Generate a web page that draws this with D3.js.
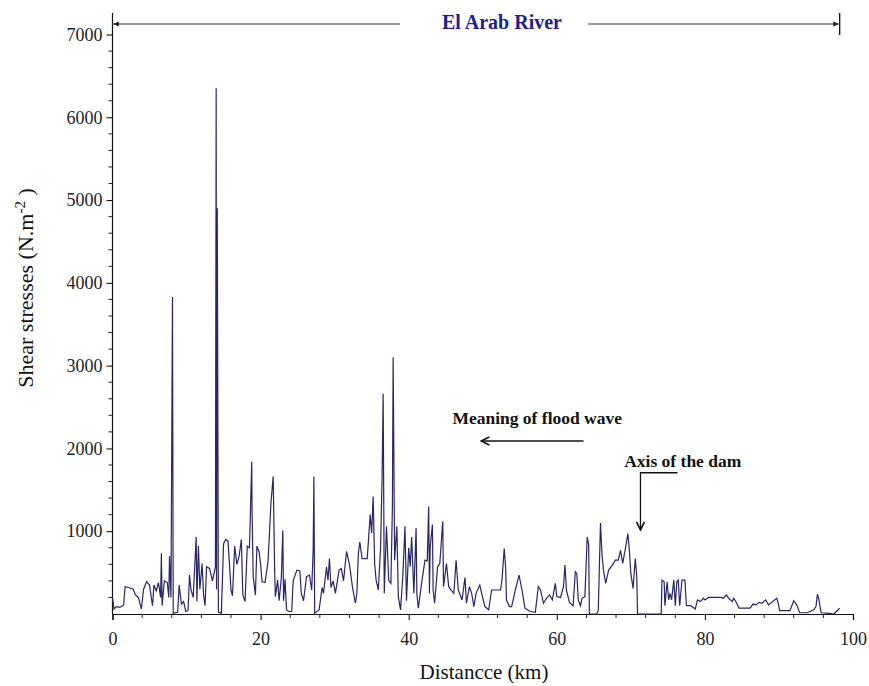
<!DOCTYPE html>
<html>
<head>
<meta charset="utf-8">
<script src="https://cdn.jsdelivr.net/npm/d3@7"></script>
<style>
  body { margin: 0; background: #fff; }
  svg { display: block; }
</style>
</head>
<body>
<div id="chart"></div>
<script>
// distance along the river (km) and shear stress (N/m2)
const distanceKm = [
  0, 0.2, 0.5, 1.0, 1.5, 1.7, 2.2, 2.8, 3.1, 3.5,
  3.9, 4.2, 4.6, 5.0, 5.4, 5.6, 5.9, 6.2, 6.5, 6.6,
  6.7, 7.0, 7.4, 7.6, 7.7, 7.9, 8.1, 8.2, 8.8, 9.0,
  9.3, 9.6, 9.9, 10.2, 10.4, 10.6, 10.9, 11.3, 11.4, 11.6,
  11.8, 12.1, 12.3, 12.5, 12.7, 13.1, 13.5, 13.9, 14.0, 14.05,
  14.15, 14.3, 14.7, 15.0, 15.3, 15.6, 15.8, 16.0, 16.2, 16.5,
  16.8, 17.1, 17.4, 17.6, 17.9, 18.2, 18.5, 18.8, 18.85, 19.0,
  19.3, 19.5, 19.8, 20.0, 20.2, 20.6, 21.0, 21.4, 21.7, 21.8,
  21.9, 22.0, 22.3, 22.5, 22.8, 23.0, 23.1, 23.3, 23.5, 23.8,
  24.2, 24.4, 24.9, 25.3, 25.5, 25.8, 26.2, 26.6, 26.9, 27.1,
  27.2, 27.3, 27.9, 28.3, 28.5, 28.9, 29.1, 29.3, 29.5, 29.8,
  30.1, 30.6, 30.9, 31.2, 31.6, 32.0, 32.4, 32.8, 33.0, 33.2,
  33.4, 33.7, 34.4, 34.8, 35.0, 35.2, 35.4, 35.6, 35.9, 36.2,
  36.4, 36.55, 36.7, 37.0, 37.3, 37.6, 37.8, 37.9, 38.1, 38.4,
  38.6, 38.9, 39.2, 39.5, 39.7, 40.0, 40.2, 40.4, 40.7, 41.0,
  41.1, 41.3, 41.8, 42.2, 42.5, 42.7, 42.8, 42.9, 43.2, 43.3,
  43.5, 43.9, 44.2, 44.6, 44.7, 45.1, 45.4, 45.7, 46.1, 46.4,
  46.7, 47.2, 47.6, 47.8, 48.2, 48.5, 48.8, 49.1, 49.6, 49.9,
  50.3, 50.8, 51.2, 52.4, 52.6, 52.9, 53.1, 53.2, 53.6, 53.9,
  54.4, 54.9, 55.3, 55.7, 56.4, 57.1, 57.5, 57.8, 58.2, 58.6,
  59.0, 59.4, 59.8, 60.0, 60.5, 60.9, 61.1, 61.3, 61.7, 62.2,
  62.5, 62.7, 62.9, 63.2, 63.4, 63.8, 64.1, 64.3, 64.4, 65.4,
  65.6, 65.9, 66.1, 66.3, 66.6, 67.0, 67.5, 67.9, 68.3, 68.6,
  68.9, 69.3, 69.6, 69.8, 70.0, 70.3, 70.6, 70.8, 70.9, 74.1,
  74.2, 74.5, 74.6, 74.9, 75.1, 75.3, 75.5, 75.8, 76.0, 76.2,
  76.4, 76.6, 76.9, 77.3, 77.5, 78.1, 78.7, 79.0, 79.4, 79.8,
  80.0, 80.5, 82.1, 82.5, 82.9, 83.2, 83.7, 83.9, 84.3, 84.6,
  86.1, 86.5, 86.9, 87.3, 87.7, 88.2, 88.6, 89.7, 89.9, 90.1,
  91.5, 91.7, 92.0, 92.4, 92.8, 93.8, 94.7, 95.0, 95.2, 95.4,
  95.7, 96.5, 97.4, 98.2
];
const shearStress = [
  200, 60, 90, 80, 110, 330, 320, 300, 230, 200,
  60, 300, 390, 350, 100, 350, 280, 380, 200, 735,
  100, 400, 380, 200, 700, 200, 3830, 10, 20, 350,
  120, 150, 30, 40, 470, 290, 200, 930, 150, 820,
  300, 610, 230, 100, 570, 550, 400, 570, 6350, 300,
  4900, 20, 10, 850, 900, 880, 600, 290, 220, 820,
  600, 700, 900, 230, 150, 820, 800, 1840, 1220, 450,
  230, 820, 750, 600, 390, 380, 630, 1340, 1660, 1100,
  500, 210, 410, 160, 440, 1010, 160, 420, 50, 30,
  30, 400, 530, 520, 250, 160, 450, 470, 290, 775,
  1660, 10, 50, 320, 250, 570, 410, 670, 320, 400,
  250, 530, 550, 400, 755, 600, 330, 130, 250, 730,
  870, 670, 670, 1200, 980, 1420, 610, 410, 290, 800,
  1620, 2660, 250, 1060, 410, 370, 1300, 3100, 650, 1060,
  210, 50, 450, 1060, 160, 800, 570, 930, 250, 1040,
  250, 70, 410, 650, 640, 1300, 250, 810, 1080, 290,
  130, 570, 610, 1120, 330, 610, 330, 290, 250, 650,
  290, 170, 440, 130, 330, 250, 90, 250, 350, 230,
  90, 50, 290, 290, 410, 790, 550, 170, 90, 90,
  290, 470, 290, 70, 30, 20, 330, 290, 130, 190,
  230, 170, 370, 210, 200, 330, 590, 290, 140, 100,
  510, 490, 170, 100, 190, 210, 930, 840, 0, 0,
  40, 1100, 730, 530, 370, 530, 590, 650, 650, 770,
  610, 810, 970, 770, 490, 310, 670, 450, 0, 0,
  410, 390, 100, 390, 170, 250, 170, 410, 100, 390,
  410, 100, 410, 410, 100, 100, 60, 170, 150, 190,
  170, 200, 200, 190, 230, 190, 150, 190, 130, 70,
  70, 120, 110, 140, 130, 170, 110, 190, 130, 40,
  40, 90, 160, 110, 15, 15, 50, 90, 240, 170,
  15, 10, 0, 70
];

const xTickLabels = [0, 20, 40, 60, 80, 100];
const xMinorTicks = d3.range(0, 101, 4).filter(v => v % 20 !== 0);
const yTickLabels = [1000, 2000, 3000, 4000, 5000, 6000, 7000];
const yMinorTicks = d3.range(200, 7000, 200).filter(v => v % 1000 !== 0);

const riverTitle = "El Arab River";
const riverEndKm = 98.2;
const floodNote = { text: "Meaning of flood wave", km: 45.9, val: 2290, fromKm: 63.6, toKm: 49.8, arrowVal: 2090 };
const damNote = { text: "Axis of the dam", km: 69.1, val: 1780, elbowKm: 76.3, km0: 71.3, topVal: 1706, tipVal: 1016 };

const width = 869, height = 686;
const margin = { top: 13, right: 16, bottom: 72, left: 112.5 };
const serif = "'Liberation Serif', 'Times New Roman', Times, serif";

const svg = d3.select("#chart").append("svg")
  .attr("width", width)
  .attr("height", height)
  .style("font-family", serif);

const x = d3.scaleLinear().domain([0, 100]).range([margin.left, width - margin.right]);
const y = d3.scaleLinear().domain([0, 7260]).range([height - margin.bottom, margin.top]);

const defs = svg.append("defs");
defs.append("marker")
  .attr("id", "chev")
  .attr("viewBox", "0 0 10 10")
  .attr("refX", 9).attr("refY", 5)
  .attr("markerWidth", 10).attr("markerHeight", 10)
  .attr("markerUnits", "userSpaceOnUse")
  .attr("orient", "auto")
  .append("path")
  .attr("d", "M1,1 L9,5 L1,9")
  .attr("fill", "none")
  .attr("stroke", "#111")
  .attr("stroke-width", 1.6);
defs.append("marker")
  .attr("id", "small")
  .attr("viewBox", "0 0 10 10")
  .attr("refX", 9).attr("refY", 5)
  .attr("markerWidth", 6).attr("markerHeight", 6)
  .attr("markerUnits", "userSpaceOnUse")
  .attr("orient", "auto")
  .append("path")
  .attr("d", "M0,1 L10,5 L0,9 Z")
  .attr("fill", "#222");

// y axis
const yAxis = svg.append("g").attr("transform", `translate(${margin.left},0)`);
yAxis.call(d3.axisLeft(y).tickValues(yTickLabels).tickSize(6).tickPadding(4).tickFormat(d3.format("d")));
yAxis.selectAll(".tick text").attr("font-size", 18).attr("font-family", serif).attr("fill", "#222");
yAxis.select(".domain").remove();
yAxis.append("g").selectAll("line").data(yMinorTicks).join("line")
  .attr("x1", -4).attr("x2", 0)
  .attr("y1", d => y(d)).attr("y2", d => y(d))
  .attr("stroke", "#222");
yAxis.append("line")
  .attr("x1", 0).attr("x2", 0)
  .attr("y1", y(0)).attr("y2", y.range()[1])
  .attr("stroke", "#111").attr("stroke-width", 1.2);

// x axis
const xAxis = svg.append("g").attr("transform", `translate(0,${y(0)})`);
xAxis.call(d3.axisBottom(x).tickValues(xTickLabels).tickSize(6).tickPadding(12).tickFormat(d3.format("d")));
xAxis.selectAll(".tick text").attr("font-size", 18).attr("font-family", serif).attr("fill", "#222");
xAxis.select(".domain").attr("stroke", "#111").attr("stroke-width", 1.2);
xAxis.append("g").selectAll("line").data(xMinorTicks).join("line")
  .attr("x1", d => x(d)).attr("x2", d => x(d))
  .attr("y1", 0).attr("y2", 4)
  .attr("stroke", "#222");

// data line
const line = d3.line()
  .x((d, i) => x(distanceKm[i]))
  .y(d => y(d));
svg.append("path")
  .datum(shearStress)
  .attr("fill", "none")
  .attr("stroke", "#262668")
  .attr("stroke-width", 1.2)
  .attr("stroke-linejoin", "miter")
  .attr("d", line);

// river extent bracket on top
const topY = 24;
svg.append("text")
  .attr("x", 502).attr("y", 29)
  .attr("text-anchor", "middle")
  .attr("font-size", 20).attr("font-weight", "bold")
  .attr("fill", "#1e1e8c")
  .text(riverTitle);
svg.append("line")
  .attr("x1", 400).attr("x2", x(0) + 1)
  .attr("y1", topY).attr("y2", topY)
  .attr("stroke", "#333").attr("stroke-width", 1.2)
  .attr("marker-end", "url(#small)");
svg.append("line")
  .attr("x1", 588).attr("x2", x(riverEndKm) - 1)
  .attr("y1", topY).attr("y2", topY)
  .attr("stroke", "#333").attr("stroke-width", 1.2)
  .attr("marker-end", "url(#small)");
svg.append("line")
  .attr("x1", x(riverEndKm)).attr("x2", x(riverEndKm))
  .attr("y1", 13).attr("y2", 35)
  .attr("stroke", "#111").attr("stroke-width", 1.3);

// flood wave note
svg.append("text")
  .attr("x", x(floodNote.km)).attr("y", y(floodNote.val))
  .attr("font-size", 17.5).attr("font-weight", "bold").attr("fill", "#111")
  .text(floodNote.text);
svg.append("line")
  .attr("x1", x(floodNote.fromKm)).attr("x2", x(floodNote.toKm))
  .attr("y1", y(floodNote.arrowVal)).attr("y2", y(floodNote.arrowVal))
  .attr("stroke", "#111").attr("stroke-width", 1.3)
  .attr("marker-end", "url(#chev)");

// dam note
svg.append("text")
  .attr("x", x(damNote.km)).attr("y", y(damNote.val))
  .attr("font-size", 17.5).attr("font-weight", "bold").attr("fill", "#111")
  .text(damNote.text);
svg.append("path")
  .attr("d", `M${x(damNote.elbowKm)},${y(damNote.topVal)} H${x(damNote.km0)} V${y(damNote.tipVal)}`)
  .attr("fill", "none")
  .attr("stroke", "#111").attr("stroke-width", 1.3)
  .attr("marker-end", "url(#chev)");

// axis titles
svg.append("text")
  .attr("x", 484).attr("y", 679)
  .attr("text-anchor", "middle")
  .attr("font-size", 21).attr("fill", "#111")
  .text("Distancce (km)");
const yTitle = svg.append("text")
  .attr("transform", "translate(33,288) rotate(-90)")
  .attr("text-anchor", "middle")
  .attr("font-size", 22).attr("fill", "#111");
yTitle.append("tspan").text("Shear stresses (N.m");
yTitle.append("tspan").attr("font-size", 15).attr("dy", -8).text("-2");
yTitle.append("tspan").attr("dy", 8).text(" )");
</script>
</body>
</html>
